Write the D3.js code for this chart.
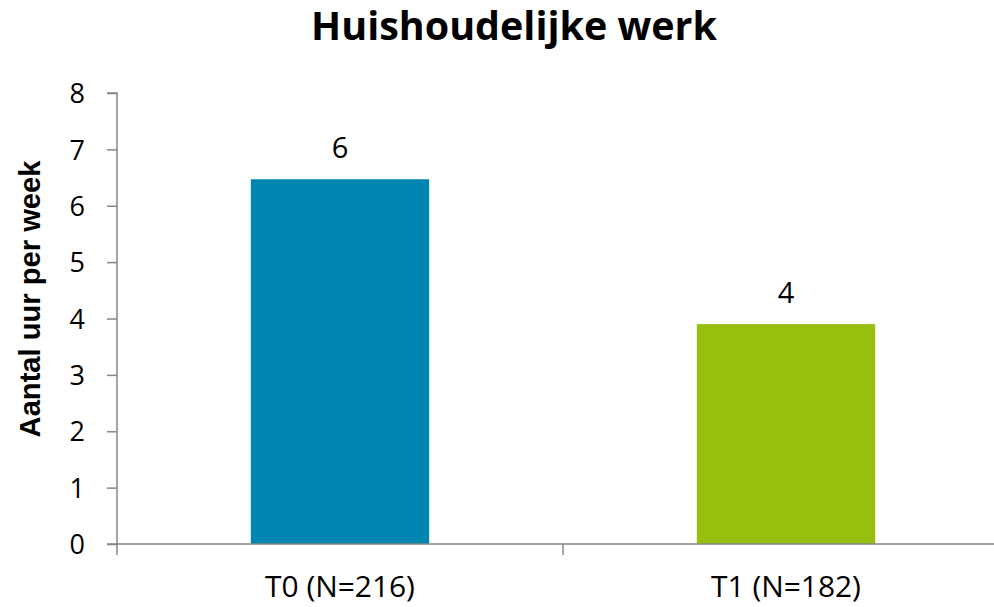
<!DOCTYPE html>
<html>
<head>
<meta charset="utf-8">
<script src="https://cdn.jsdelivr.net/npm/d3@7"></script>
<style>
  html, body { margin: 0; padding: 0; background: #fff; }
  svg { display: block; }
</style>
</head>
<body>
<svg id="chart" width="994" height="607"></svg>
<script>
const title = "Huishoudelijke werk";
const yAxisTitle = "Aantal uur per week";
const categories = ["T0 (N=216)", "T1 (N=182)"];
const values = [6.47, 3.90];
const colors = ["#0086B0", "#97BF0D"];
const yTicks = [0, 1, 2, 3, 4, 5, 6, 7, 8];

(function () {
const plotLeft = 117, plotRight = 1009, plotTop = 93, plotBottom = 544;
const axisColor = "#868686";
const font = "'Open Sans', 'Noto Sans', sans-serif";

const svg = d3.select("#chart");

const x = d3.scaleBand().domain(categories).range([plotLeft, plotRight])
  .paddingInner(0.6).paddingOuter(0.3);
const y = d3.scaleLinear().domain([0, 8]).range([plotBottom, plotTop]);

function fitSize(sel, target) {
  const w = sel.node().getComputedTextLength();
  const fs = parseFloat(sel.attr("font-size"));
  sel.attr("font-size", fs * target / w);
}

// Title
const t = svg.append("text").attr("x", 514).attr("y", 40)
  .attr("text-anchor", "middle").attr("font-family", font)
  .attr("font-weight", "bold").attr("font-size", 36).attr("fill", "#000")
  .text(title);
fitSize(t, 406);

// Bars
svg.append("g").selectAll("rect").data(categories).join("rect")
  .attr("x", d => x(d))
  .attr("width", x.bandwidth())
  .attr("y", (d, i) => y(values[i]))
  .attr("height", (d, i) => y(0) - y(values[i]))
  .attr("fill", (d, i) => colors[i]);

// Value labels
svg.append("g").selectAll("text").data(categories).join("text")
  .attr("x", d => x(d) + x.bandwidth() / 2)
  .attr("y", (d, i) => y(values[i]) - 21)
  .attr("text-anchor", "middle").attr("font-family", font)
  .attr("font-size", 29).attr("fill", "#000")
  .text((d, i) => d3.format(".0f")(values[i]));

// Y axis
const yAxis = d3.axisLeft(y).tickValues(yTicks).tickSize(10).tickPadding(22)
  .tickFormat(d3.format("d"));
const gy = svg.append("g").attr("transform", `translate(${plotLeft},0)`).call(yAxis);
gy.select(".domain").attr("stroke", axisColor).attr("stroke-width", 1.5)
  .attr("d", `M-10,${plotTop}H0V${plotBottom}H-10`);
gy.selectAll(".tick line").attr("stroke", axisColor).attr("stroke-width", 1.5);
gy.selectAll(".tick text").attr("font-family", font).attr("font-size", 27)
  .attr("fill", "#000").attr("dy", "0.36em");

// X axis
const xAxis = d3.axisBottom(x).tickSize(0);
const gx = svg.append("g").attr("transform", `translate(0,${plotBottom})`).call(xAxis);
gx.select(".domain").attr("stroke", axisColor).attr("stroke-width", 1.5)
  .attr("d", `M${plotLeft},0H${plotRight}`);
gx.selectAll(".tick text").attr("font-family", font).attr("font-size", 27)
  .attr("fill", "#000").attr("y", 53).attr("dy", 0);
gx.selectAll(".tick text").each(function() { fitSize(d3.select(this), 150); });
const bounds = [plotLeft, plotLeft + x.step(), plotLeft + 2 * x.step()];
gx.selectAll(".btick").data(bounds).join("line").attr("class", "btick")
  .attr("x1", d => d).attr("x2", d => d).attr("y1", 0).attr("y2", 11)
  .attr("stroke", axisColor).attr("stroke-width", 1.5);

// Y axis title
const yt = svg.append("text")
  .attr("transform", `translate(40,299) rotate(-90)`)
  .attr("text-anchor", "middle").attr("font-family", "'Liberation Sans', Arial, sans-serif")
  .attr("font-weight", "bold").attr("font-size", 24).attr("fill", "#000")
  .text(yAxisTitle);
fitSize(yt, 277);
})();
</script>
</body>
</html>
